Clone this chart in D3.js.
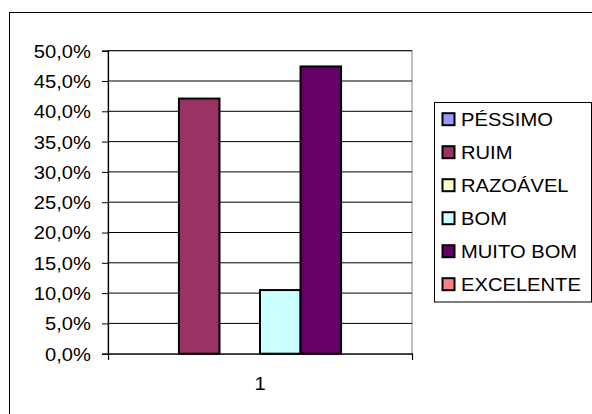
<!DOCTYPE html>
<html>
<head>
<meta charset="utf-8">
<script src="https://cdn.jsdelivr.net/npm/d3@7"></script>
<style>
  html, body { margin: 0; padding: 0; background: #fff; }
  svg { display: block; }
  text { font-family: "Liberation Sans", Arial, sans-serif; fill: #000; }
</style>
</head>
<body>
<svg id="chart" width="592" height="414"></svg>
<script>
// Survey answers, one category, share of respondents per rating
const categories = ["1"];
const seriesNames = ["PÉSSIMO", "RUIM", "RAZOÁVEL", "BOM", "MUITO BOM", "EXCELENTE"];
const seriesValues = [0, 0.421, 0, 0.105, 0.474, 0];
const seriesColors = ["#9999FF", "#993366", "#FFFFCC", "#CCFFFF", "#660066", "#FF8080"];
const tickValues = [0, 0.05, 0.10, 0.15, 0.20, 0.25, 0.30, 0.35, 0.40, 0.45, 0.50];

const svg = d3.select("#chart");
const fontSize = 18;
const stretch = 1.12; // horizontal stretch of the lettering

const plot = { left: 108, right: 412, top: 50.7, bottom: 353.7 };

// Chart frame (extends past the window on the right and bottom)
svg.append("rect")
  .attr("x", 9.5).attr("y", 12.5)
  .attr("width", 640).attr("height", 460)
  .attr("fill", "#fff").attr("stroke", "#000").attr("stroke-width", 1);

const y = d3.scaleLinear().domain([0, 0.5]).range([plot.bottom, plot.top]);
const x0 = d3.scaleBand().domain(categories).range([plot.left, plot.right])
  .paddingInner(0).paddingOuter(0.125);
const x1 = d3.scaleBand().domain(seriesNames).range([0, x0.bandwidth()]).padding(0);

// Plot area border
svg.append("rect")
  .attr("x", plot.left).attr("y", plot.top)
  .attr("width", plot.right - plot.left).attr("height", plot.bottom - plot.top)
  .attr("fill", "#fff").attr("stroke", "#808080").attr("stroke-width", 1);

// Horizontal gridlines
svg.append("g").selectAll("line")
  .data(tickValues.filter(d => d > 0))
  .join("line")
  .attr("x1", plot.left).attr("x2", plot.right)
  .attr("y1", d => y(d)).attr("y2", d => y(d))
  .attr("stroke", "#000").attr("stroke-width", 1);

// Bars
const groups = svg.append("g").selectAll("g")
  .data(categories)
  .join("g")
  .attr("transform", d => `translate(${x0(d)},0)`);

groups.selectAll("rect")
  .data(() => seriesNames.map((name, i) => ({ name, value: seriesValues[i], color: seriesColors[i] })))
  .join("rect")
  .attr("x", d => x1(d.name))
  .attr("y", d => y(d.value))
  .attr("width", x1.bandwidth())
  .attr("height", d => y(0) - y(d.value))
  .attr("fill", d => d.color)
  .attr("stroke", "#000")
  .attr("stroke-width", 2);

// Value axis
const yAxis = d3.axisLeft(y)
  .tickValues(tickValues)
  .tickSize(6)
  .tickFormat(d => d3.format(".1f")(d * 100).replace(".", ",") + "%");

const yg = svg.append("g")
  .attr("transform", `translate(${plot.left},0)`)
  .call(yAxis);
yg.select(".domain").attr("stroke", "#000").attr("stroke-width", 1.2);
yg.selectAll(".tick line").attr("stroke", "#000");
yg.selectAll(".tick text")
  .attr("font-size", fontSize)
  .attr("x", 0).attr("dy", null)
  .attr("y", 6.4)
  .attr("font-family", "Liberation Sans, Arial, sans-serif")
  .attr("transform", `translate(-17,0) scale(${stretch},1)`);

// Category axis
const xAxis = d3.axisBottom(d3.scaleLinear().domain([0, 1]).range([plot.left, plot.right]))
  .tickValues([0, 1]).tickSize(6).tickFormat("");
const xg = svg.append("g")
  .attr("transform", `translate(0,${plot.bottom})`)
  .call(xAxis);
xg.select(".domain").attr("stroke", "#000").attr("stroke-width", 1.2);
xg.selectAll(".tick line").attr("stroke", "#000");

svg.append("g")
  .selectAll("text")
  .data(categories)
  .join("text")
  .attr("text-anchor", "middle")
  .attr("font-size", fontSize)
  .attr("transform", d => `translate(${x0(d) + x0.bandwidth() / 2},390) scale(${stretch},1)`)
  .text(d => d);

// Legend
const legend = svg.append("g");
legend.append("rect")
  .attr("x", 434.5).attr("y", 102.5)
  .attr("width", 157).attr("height", 199.5)
  .attr("fill", "#fff").attr("stroke", "#000").attr("stroke-width", 1);

const items = legend.selectAll("g.item")
  .data(seriesNames.map((name, i) => ({ name, color: seriesColors[i] })))
  .join("g")
  .attr("class", "item")
  .attr("transform", (d, i) => `translate(0,${119.2 + i * 33})`);

items.append("rect")
  .attr("x", 442.5).attr("y", -6)
  .attr("width", 12).attr("height", 12)
  .attr("fill", d => d.color)
  .attr("stroke", "#000").attr("stroke-width", 2);

items.append("text")
  .attr("font-size", fontSize)
  .attr("transform", `translate(461,6.4) scale(${stretch},1)`)
  .text(d => d.name);
</script>
</body>
</html>
